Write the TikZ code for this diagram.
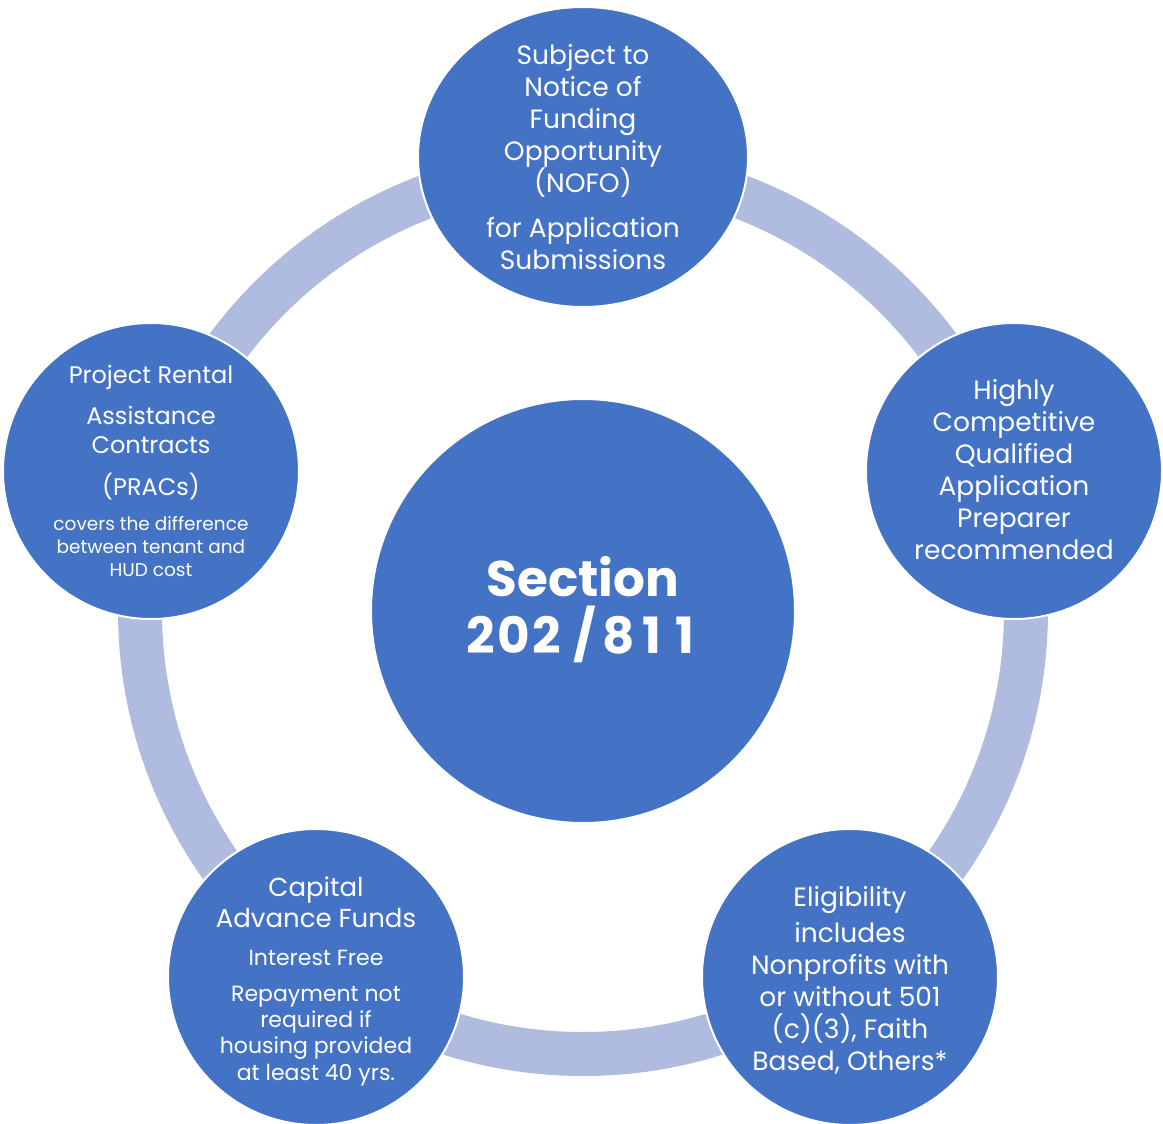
\documentclass[tikz,border=0pt]{standalone}
\usepackage{fontspec}
\setmainfont{Poppins}
\usetikzlibrary{shapes.geometric}
\definecolor{bblue}{HTML}{4472C4}
\definecolor{ringc}{HTML}{B0BCDF}
\newcommand{\dg}[1]{\makebox[33pt]{#1}}
\begin{document}
\begin{tikzpicture}[x=1pt,y=-1pt,
  bub/.style={circle,fill=bblue,draw=white,line width=2pt,minimum size=296pt,inner sep=0pt},
  txt/.style={text=white,align=center,inner sep=0pt},
  fbig/.style={font=\fontsize{26.5}{32}\selectfont},
  fmid/.style={font=\fontsize{22}{26.3}\selectfont},
  fsmall/.style={font=\fontsize{18.5}{23}\selectfont}]
\useasboundingbox (0,0) rectangle (1163,1124);
\coordinate (O) at (583,611);
\draw[ringc,line width=44pt] (O) circle[radius=443];
% center
\node[circle,fill=bblue,draw=white,line width=2pt,minimum size=424pt,inner sep=0pt] (C) at (O) {};
\node[txt,font=\fontsize{50}{57}\selectfont\bfseries] (Ct) at (583,610) {Section\\\dg{2}\dg{0}\dg{2}\hspace{10pt}/\hspace{6pt}\dg{8}\dg{1}\dg{1}};
% outer bubbles
\node[ellipse,fill=bblue,draw=white,line width=2pt,minimum width=330pt,minimum height=300pt,inner sep=0pt] (T) at (583,157) {};
\node[bub] (R) at (1014,471) {};
\node[bub] (BR) at (850,977) {};
\node[bub] (BL) at (316,977) {};
\node[bub] (L) at (151,471) {};
% texts
\node[txt,fbig] (Tt) at (583,157.5) {Subject to\\Notice of\\Funding\\Opportunity\\(NOFO)\\[13pt]for Application\\Submissions};
\node[txt,fbig] (Rt) at (1014,470) {Highly\\Competitive\\Qualified\\Application\\Preparer\\recommended};
\node[txt,fbig] (BRt) at (850,980.5) {Eligibility\\[4pt]includes\\Nonprofits with\\or without 501\\(c)(3), Faith\\Based, Others*};
\node[txt,font=\fontsize{26}{31}\selectfont] (BLa) at (316,902) {Capital\\Advance Funds};
\node[txt,fmid] (BLb) at (316,958) {Interest Free};
\node[txt,fmid] (BLc) at (316,1036) {Repayment not\\required if\\housing provided\\at least 40 yrs.};
\node[txt,font=\fontsize{24}{29}\selectfont] (La) at (151,377) {Project Rental};
\node[txt,font=\fontsize{24}{29}\selectfont] (Lb) at (151,430) {Assistance\\Contracts};
\node[txt,font=\fontsize{24}{29}\selectfont] (Lc) at (151,487) {(PRACs)};
\node[txt,fsmall] (Ld) at (151,547) {covers the difference\\between tenant and\\HUD cost};
\end{tikzpicture}
\end{document}
